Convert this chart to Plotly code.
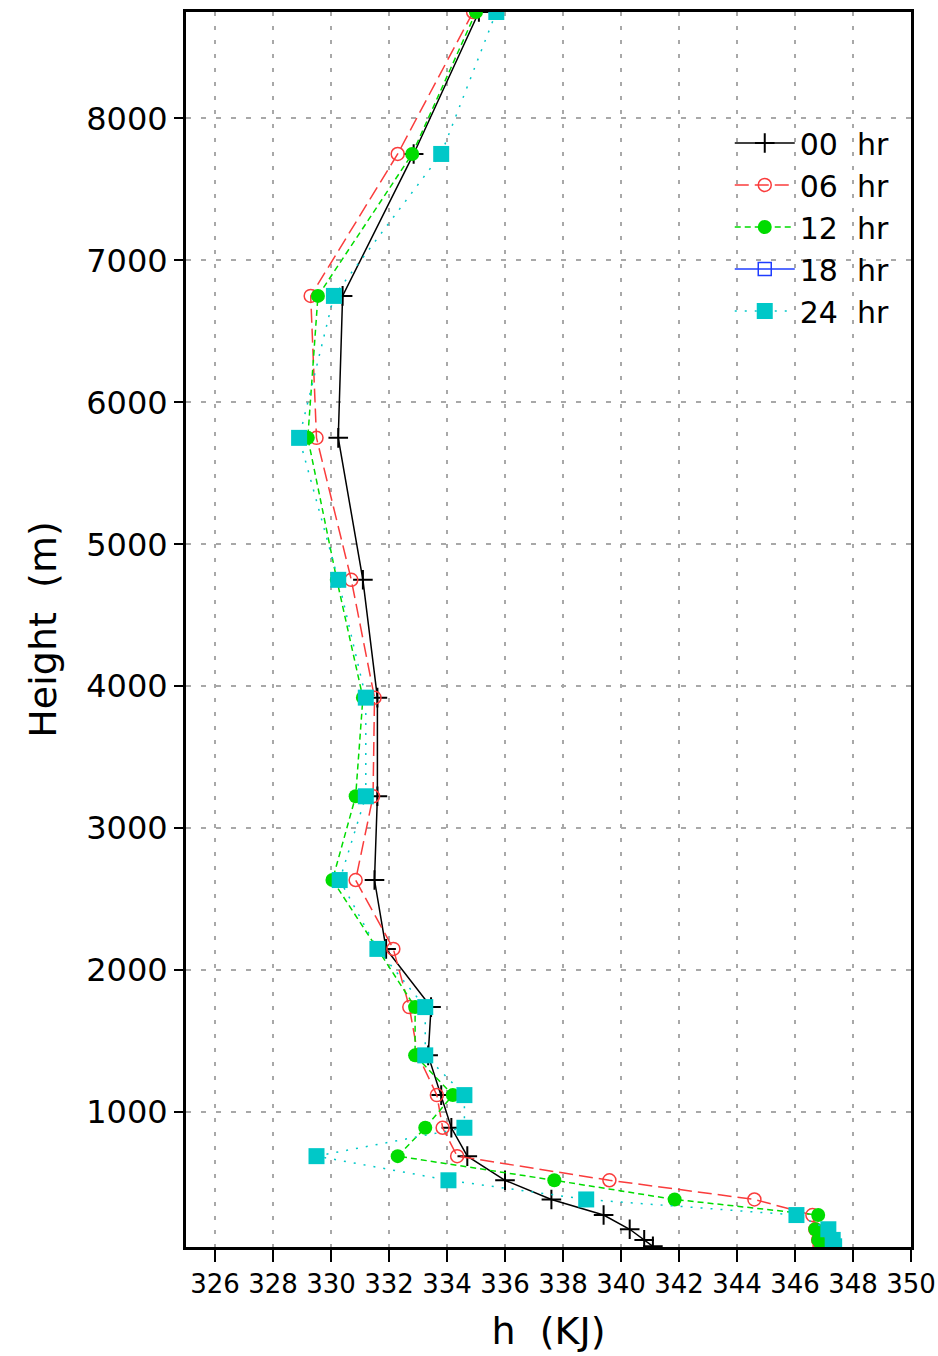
import plotly.graph_objects as go

# Heights (m) of the model levels
heights = [8750, 7750, 6750, 5750, 4750, 3920, 3225, 2635, 2150, 1740,
           1400, 1120, 890, 690, 520, 385, 275, 175, 100, 55]

# Moist static energy h (KJ) for each forecast hour
hr00 = [335.1, 332.85, 330.4, 330.25, 331.1, 331.6, 331.6, 331.5, 331.9, 333.45,
        333.35, 333.8, 334.15, 334.7, 336.0, 337.6, 339.4, 340.3, 340.8, 341.1]
hr06 = [334.9, 332.3, 329.3, 329.5, 330.7, 331.5, 331.45, 330.85, 332.15, 332.7,
        333.0, 333.65, 333.85, 334.35, 339.6, 344.6, 346.6, 346.7, 346.8, 346.85]
hr12 = [335.0, 332.8, 329.55, 329.2, 330.2, 331.1, 330.85, 330.05, 331.6, 332.9,
        332.9, 334.2, 333.25, 332.3, 337.7, 341.85, 346.8, 346.7, 346.8, 346.9]
hr18 = [None]  # no visible data in the chart (legend entry only)
hr24 = [335.7, 333.8, 330.1, 328.9, 330.25, 331.2, 331.2, 330.3, 331.6, 333.25,
        333.25, 334.6, 334.6, 329.5, 334.05, 338.8, 346.05, 347.15, 347.3, 347.35]

series_names = ["00\u00a0\u00a0hr", "06\u00a0\u00a0hr", "12\u00a0\u00a0hr", "18\u00a0\u00a0hr", "24\u00a0\u00a0hr"]

x_ticks = list(range(326, 351, 2))
y_ticks = list(range(1000, 8001, 1000))

fig = go.Figure()

fig.add_trace(go.Scatter(
    x=hr00, y=heights, name=series_names[0], mode="lines+markers",
    line=dict(color="black", width=1.5),
    marker=dict(symbol="cross-thin", size=14, line=dict(color="black", width=2))))
fig.add_trace(go.Scatter(
    x=hr06, y=heights, name=series_names[1], mode="lines+markers",
    line=dict(color="#fa3c3c", width=1.5, dash="14px,6px"),
    marker=dict(symbol="circle-open", size=13, color="#fa3c3c", line=dict(width=1.5))))
fig.add_trace(go.Scatter(
    x=hr12, y=heights, name=series_names[2], mode="lines+markers",
    line=dict(color="#00dc00", width=1.5, dash="6px,4px"),
    marker=dict(symbol="circle", size=14, color="#00dc00")))
fig.add_trace(go.Scatter(
    x=hr18, y=[None], name=series_names[3], mode="lines+markers",
    line=dict(color="#1e3cff", width=1.5),
    marker=dict(symbol="square-open", size=13, color="#1e3cff", line=dict(width=1.5))))
fig.add_trace(go.Scatter(
    x=hr24, y=heights, name=series_names[4], mode="lines+markers",
    line=dict(color="#00c8c8", width=1.5, dash="2px,8px"),
    marker=dict(symbol="square", size=16, color="#00c8c8")))

fig.update_layout(
    width=938, height=1356,
    margin=dict(l=186, r=27, t=12, b=109),
    paper_bgcolor="white", plot_bgcolor="white",
    font=dict(family="DejaVu Sans", color="black"),
    showlegend=True,
    legend=dict(
        x=0.75, y=0.915, xanchor="left", yanchor="top",
        bgcolor="rgba(0,0,0,0)", font=dict(size=30, family="DejaVu Sans"),
        itemwidth=60, tracegroupgap=0,
    ),
)

fig.update_xaxes(
    range=[325, 350], tickmode="array", tickvals=x_ticks,
    ticktext=[str(v) for v in x_ticks],
    tickfont=dict(size=26, family="DejaVu Sans"),
    ticks="outside", ticklen=12, tickwidth=1.5, tickcolor="black",
    showline=True, linecolor="black", linewidth=3, mirror=True,
    showgrid=True, gridcolor="#a8a8a8", gridwidth=1.5, griddash="4px,10px",
    zeroline=False, automargin=False,
    title=dict(text="h\u00a0\u00a0(KJ)", font=dict(size=38, family="DejaVu Sans"), standoff=20),
)
fig.update_yaxes(
    range=[50, 8750], tickmode="array", tickvals=y_ticks,
    ticktext=[str(v) for v in y_ticks],
    tickfont=dict(size=32, family="DejaVu Sans"),
    ticks="outside", ticklen=9, tickwidth=1.5, tickcolor="black",
    showline=True, linecolor="black", linewidth=3, mirror=True,
    showgrid=True, gridcolor="#a8a8a8", gridwidth=1.5, griddash="5px,10px",
    zeroline=False, automargin=False,
    title=dict(text="Height\u00a0\u00a0(m)", font=dict(size=38, family="DejaVu Sans"), standoff=18),
)

fig.write_html("out.html")
